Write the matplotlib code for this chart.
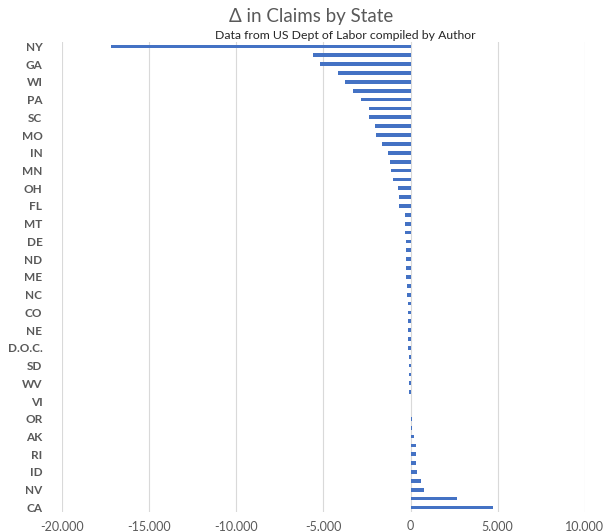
import matplotlib.pyplot as plt

plt.rcParams.update({
    "font.family": ["Lato", "DejaVu Sans"],
})

# states, sorted as in the chart (top to bottom); only every other one is labelled
states = ["NY", "NJ", "GA", "MI", "WI", "TX", "PA", "IL", "SC", "KY",
          "MO", "MA", "IN", "TN", "MN", "AL", "OH", "WA", "FL", "VA",
          "MT", "CT", "DE", "MD", "ND", "KS", "ME", "LA", "NC", "OK",
          "CO", "MS", "NE", "AR", "D.O.C.", "NH", "SD", "UT", "WV", "VT",
          "VI", "HI", "OR", "WY", "AK", "PR", "RI", "NM", "ID", "IA",
          "NV", "AZ", "CA"]
delta = [-17200, -5600, -5180, -4180, -3750, -3300, -2850, -2370, -2370, -2060,
         -1980, -1650, -1310, -1180, -1100, -980, -710, -650, -650, -330,
         -310, -310, -240, -240, -235, -235, -230, -200, -200, -160,
         -160, -140, -140, -120, -120, -80, -80, -75, -70, -65,
         50, 55, 60, 65, 200, 300, 310, 320, 390, 590,
         760, 2680, 4750]
xticks = [-20000, -15000, -10000, -5000, 0, 5000, 10000]

fig = plt.figure(figsize=(6.13, 5.31), dpi=100)
ax = fig.add_axes([0.101, 0.036, 0.853, 0.885])

pos = list(range(len(states)))
ax.barh(pos, delta, height=0.42, color="#4472C4", zorder=3)

ax.set_ylim(len(states) - 0.5, -0.5)
ax.set_xlim(-20000, 10000)
ax.set_xticks(xticks)
ax.set_xticklabels([f"{v:,}" for v in xticks], fontsize=9, color="#595959")
ax.set_yticks(pos[::2])
ax.set_yticklabels(states[::2], fontsize=8.5, color="#595959", fontweight="bold")
ax.tick_params(axis="both", length=0)
ax.tick_params(axis="y", pad=14)
ax.tick_params(axis="x", pad=6)

ax.grid(axis="x", color="#D9D9D9", linewidth=0.8, zorder=0)
for s in ax.spines.values():
    s.set_visible(False)

fig.text(0.508, 0.968, "Δ in Claims by State", ha="center", va="center",
         fontsize=13.5, color="#595959")
fig.text(0.563, 0.933, "Data from US Dept of Labor compiled by Author",
         ha="center", va="center", fontsize=8.8, color="#262626")

fig.savefig("out.png", dpi=100)
